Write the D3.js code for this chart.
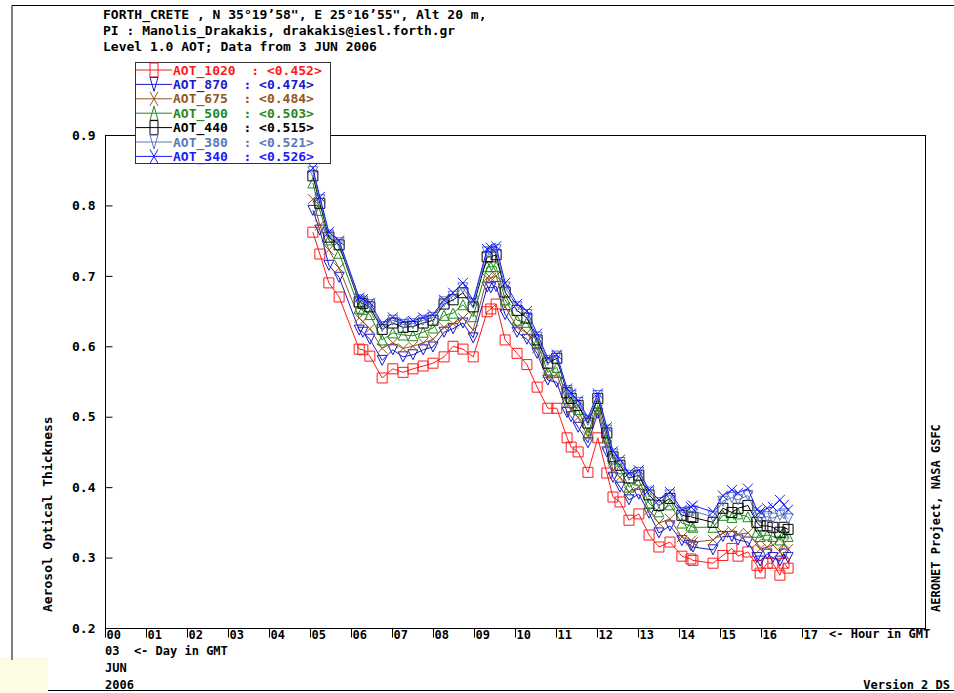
<!DOCTYPE html>
<html>
<head>
<meta charset="utf-8">
<script src="https://cdn.jsdelivr.net/npm/d3@7"></script>
<style>
  body { margin: 0; background: #fff; }
  svg { display: block; }
  text { font-family: "DejaVu Sans Mono", monospace; font-weight: bold; }
</style>
</head>
<body>
<div id="chart"></div>
<script>
// measurement times (hour GMT, 3 JUN 2006)
const hours = [5.07, 5.24, 5.46, 5.71, 6.20, 6.29, 6.46, 6.76, 7.02, 7.27, 7.51, 7.76, 8.00, 8.27, 8.49, 8.73, 8.98,
    9.32, 9.41, 9.54, 9.76, 10.05, 10.29, 10.54, 10.80, 11.02, 11.27, 11.37, 11.54, 11.78, 12.02, 12.24, 12.39, 12.56,
    12.78, 13.02, 13.27, 13.51, 13.78, 14.07, 14.29, 14.34, 14.83, 15.07, 15.29, 15.44, 15.68, 15.90, 15.98, 16.15,
    16.29, 16.46, 16.56, 16.66];

const aot1020 = [0.762, 0.731, 0.690, 0.670, 0.596, 0.595, 0.586, 0.555, 0.568, 0.563, 0.568, 0.572, 0.576, 0.585, 0.600, 0.596, 0.585,
    0.649, 0.653, 0.660, 0.609, 0.590, 0.574, 0.542, 0.512, 0.512, 0.470, 0.457, 0.450, 0.421, 0.470, 0.420, 0.386, 0.379,
    0.353, 0.362, 0.332, 0.315, 0.322, 0.302, 0.298, 0.296, 0.292, 0.303, 0.313, 0.302, 0.308, 0.289, 0.278, 0.292,
    0.292, 0.275, 0.292, 0.285];
const aot870 = [0.793, 0.765, 0.715, 0.698, 0.623, 0.620, 0.610, 0.580, 0.595, 0.585, 0.588, 0.595, 0.599, 0.620, 0.625, 0.633, 0.612,
    0.684, 0.683, 0.685, 0.645, 0.620, 0.610, 0.590, 0.552, 0.549, 0.506, 0.500, 0.485, 0.463, 0.505, 0.450, 0.414, 0.400,
    0.382, 0.390, 0.363, 0.335, 0.345, 0.324, 0.317, 0.315, 0.311, 0.330, 0.330, 0.325, 0.322, 0.300, 0.295, 0.305,
    0.300, 0.295, 0.305, 0.300];
const aot675 = [0.809, 0.772, 0.737, 0.711, 0.640, 0.635, 0.625, 0.597, 0.605, 0.597, 0.600, 0.605, 0.610, 0.627, 0.632, 0.640, 0.623,
    0.697, 0.697, 0.700, 0.656, 0.627, 0.619, 0.597, 0.556, 0.560, 0.520, 0.510, 0.499, 0.472, 0.510, 0.460, 0.424, 0.414,
    0.393, 0.400, 0.367, 0.349, 0.355, 0.329, 0.324, 0.322, 0.325, 0.335, 0.338, 0.333, 0.335, 0.320, 0.312, 0.315,
    0.318, 0.308, 0.320, 0.312];
const aot500 = [0.832, 0.793, 0.751, 0.732, 0.654, 0.652, 0.645, 0.609, 0.619, 0.616, 0.615, 0.620, 0.626, 0.644, 0.647, 0.659, 0.642,
    0.713, 0.713, 0.713, 0.666, 0.637, 0.634, 0.605, 0.563, 0.570, 0.526, 0.520, 0.510, 0.477, 0.516, 0.470, 0.440, 0.426,
    0.400, 0.410, 0.377, 0.365, 0.375, 0.349, 0.345, 0.343, 0.343, 0.360, 0.357, 0.362, 0.358, 0.336, 0.330, 0.332,
    0.330, 0.325, 0.335, 0.330];
const aot440 = [0.842, 0.803, 0.755, 0.744, 0.663, 0.661, 0.656, 0.624, 0.633, 0.627, 0.628, 0.633, 0.637, 0.660, 0.666, 0.676, 0.656,
    0.727, 0.727, 0.730, 0.677, 0.651, 0.640, 0.609, 0.576, 0.583, 0.534, 0.526, 0.516, 0.491, 0.526, 0.477, 0.443, 0.431,
    0.413, 0.417, 0.389, 0.374, 0.384, 0.360, 0.358, 0.357, 0.350, 0.370, 0.364, 0.370, 0.374, 0.350, 0.345, 0.345,
    0.343, 0.336, 0.343, 0.340];
const aot380 = [0.848, 0.808, 0.758, 0.747, 0.666, 0.664, 0.659, 0.628, 0.637, 0.631, 0.632, 0.637, 0.641, 0.663, 0.671, 0.683, 0.661,
    0.734, 0.734, 0.737, 0.684, 0.656, 0.645, 0.613, 0.580, 0.586, 0.537, 0.530, 0.520, 0.495, 0.530, 0.481, 0.447, 0.435,
    0.417, 0.421, 0.393, 0.378, 0.389, 0.364, 0.365, 0.366, 0.358, 0.380, 0.385, 0.382, 0.388, 0.360, 0.356, 0.358,
    0.356, 0.360, 0.362, 0.355];
const aot340 = [0.853, 0.812, 0.762, 0.750, 0.669, 0.667, 0.662, 0.632, 0.641, 0.635, 0.636, 0.641, 0.645, 0.666, 0.676, 0.690, 0.665,
    0.738, 0.740, 0.742, 0.690, 0.660, 0.650, 0.618, 0.583, 0.588, 0.540, 0.533, 0.523, 0.499, 0.533, 0.485, 0.451, 0.439,
    0.420, 0.424, 0.396, 0.382, 0.393, 0.368, 0.372, 0.374, 0.365, 0.388, 0.396, 0.392, 0.398, 0.368, 0.365, 0.370,
    0.372, 0.382, 0.375, 0.368];

const seriesNames = ["AOT_1020", "AOT_870", "AOT_675", "AOT_500", "AOT_440", "AOT_380", "AOT_340"];
const seriesMeans = ["0.452", "0.474", "0.484", "0.503", "0.515", "0.521", "0.526"];
const hourTicks = d3.range(0, 18);
const yTicks = [0.2, 0.3, 0.4, 0.5, 0.6, 0.7, 0.8, 0.9];

const seriesValues = [aot1020, aot870, aot675, aot500, aot440, aot380, aot340];
const colors = ["#ff1a1a", "#1a1acc", "#93561f", "#1f8a1f", "#000000", "#5a78b8", "#1a1aff"];
const markers = ["square", "tridown", "x", "triup", "square", "tridown", "x"];

const width = 954;
const height = 693;
const plot = { left: 105, right: 925, top: 135, bottom: 628 };

const svg = d3.select("#chart")
    .append("svg")
    .attr("width", width)
    .attr("height", height);

// outer frame of the original image
svg.append("rect").attr("x", 0).attr("y", 657).attr("width", 48).attr("height", 36).attr("fill", "#fdfbe4");
svg.append("path")
    .attr("d", `M12,660 V5.5 H954 M48,690.5 H954`)
    .attr("fill", "none").attr("stroke", "#000");

// header
const header = [
    "FORTH_CRETE , N 35°19’58\", E 25°16’55\", Alt 20 m,",
    "PI : Manolis_Drakakis, drakakis@iesl.forth.gr",
    "Level 1.0 AOT; Data from 3 JUN 2006"
];
svg.selectAll(".header")
    .data(header)
    .enter()
    .append("text")
    .attr("class", "header")
    .attr("x", 103)
    .attr("y", (d, i) => 19 + i * 16)
    .style("font-size", "13px")
    .text(d => d);

const x = d3.scaleLinear().domain([0, 20]).range([plot.left, plot.right]);
const y = d3.scaleLinear().domain([0.2, 0.9]).range([plot.bottom, plot.top]);

svg.append("rect")
    .attr("x", plot.left + 0.5)
    .attr("y", plot.top + 0.5)
    .attr("width", plot.right - plot.left)
    .attr("height", plot.bottom - plot.top)
    .attr("fill", "none")
    .attr("stroke", "#000");

const yAxis = svg.append("g")
    .attr("transform", `translate(${plot.left + 0.5},0)`)
    .call(d3.axisLeft(y).tickValues(yTicks).tickFormat(d3.format(".1f")).tickSize(-7).tickPadding(10));
yAxis.select(".domain").remove();
yAxis.selectAll("text").style("font-size", "13px").style("font-family", "DejaVu Sans Mono").style("font-weight", "bold");

const xAxis = svg.append("g")
    .attr("transform", `translate(0,${plot.bottom + 0.5})`)
    .call(d3.axisBottom(x).tickValues(hourTicks).tickFormat(d3.format("02d")).tickSize(9).tickPadding(0));
xAxis.select(".domain").remove();
xAxis.selectAll("text")
    .attr("text-anchor", "start")
    .attr("x", 1)
    .attr("y", 0)
    .attr("dy", "10px")
    .style("font-size", "12px")
    .style("font-family", "DejaVu Sans Mono")
    .style("font-weight", "bold");

const footer = svg.append("g").style("font-size", "12px");
footer.append("text").attr("x", 829).attr("y", 638).text("<- Hour in GMT");
footer.append("text").attr("x", 105).attr("y", 655).attr("xml:space", "preserve").text("03  <- Day in GMT");
footer.append("text").attr("x", 105).attr("y", 672).text("JUN");
footer.append("text").attr("x", 105).attr("y", 689).text("2006");
footer.append("text").attr("x", 950).attr("y", 689).attr("text-anchor", "end").text("Version 2 DS");

svg.append("text")
    .attr("transform", "translate(52,612) rotate(-90)")
    .style("font-size", "13px")
    .text("Aerosol Optical Thickness");
svg.append("text")
    .attr("transform", "translate(940,612) rotate(-90)")
    .style("font-size", "12px")
    .text("AERONET Project, NASA GSFC");

// marker shapes
function markerPath(type, s) {
    if (type === "square") return `M${-s},${-s}H${s}V${s}H${-s}Z`;
    if (type === "triup") return `M0,${-s}L${s},${s}H${-s}Z`;
    if (type === "tridown") return `M0,${s}L${s},${-s}H${-s}Z`;
    return `M${-s},${-s}L${s},${s}M${s},${-s}L${-s},${s}`;
}

const line = d3.line().x(d => x(d[0])).y(d => y(d[1]));

seriesValues.forEach((vals, i) => {
    const pts = hours.map((h, j) => [h, vals[j]]);
    const g = svg.append("g").attr("class", "series");
    g.append("path")
        .datum(pts)
        .attr("d", line)
        .attr("fill", "none")
        .attr("stroke", colors[i])
        .attr("stroke-width", 1);
    g.selectAll(".pt")
        .data(pts)
        .enter()
        .append("path")
        .attr("class", "pt")
        .attr("transform", d => `translate(${x(d[0])},${y(d[1])})`)
        .attr("d", markerPath(markers[i], 5))
        .attr("fill", "none")
        .attr("stroke", colors[i])
        .attr("stroke-width", 1);
});

// legend
const legend = svg.append("g");
legend.append("rect")
    .attr("x", 135.5).attr("y", 62.5).attr("width", 195).attr("height", 101)
    .attr("fill", "#fff").attr("stroke", "#333");
seriesNames.forEach((name, i) => {
    const cy = 70 + i * 14.4;
    legend.append("line")
        .attr("x1", 136).attr("x2", 172).attr("y1", cy).attr("y2", cy)
        .attr("stroke", colors[i]);
    legend.append("path")
        .attr("transform", `translate(154,${cy}) scale(0.8,1.4)`)
        .attr("d", markerPath(markers[i], 5))
        .attr("fill", "none")
        .attr("stroke", colors[i])
        .attr("vector-effect", "non-scaling-stroke");
    legend.append("text")
        .attr("x", 173).attr("y", cy + 4.5)
        .attr("xml:space", "preserve")
        .style("font-size", "13px")
        .attr("fill", colors[i])
        .text(`${name}  : <${seriesMeans[i]}>`);
});
</script>
</body>
</html>
